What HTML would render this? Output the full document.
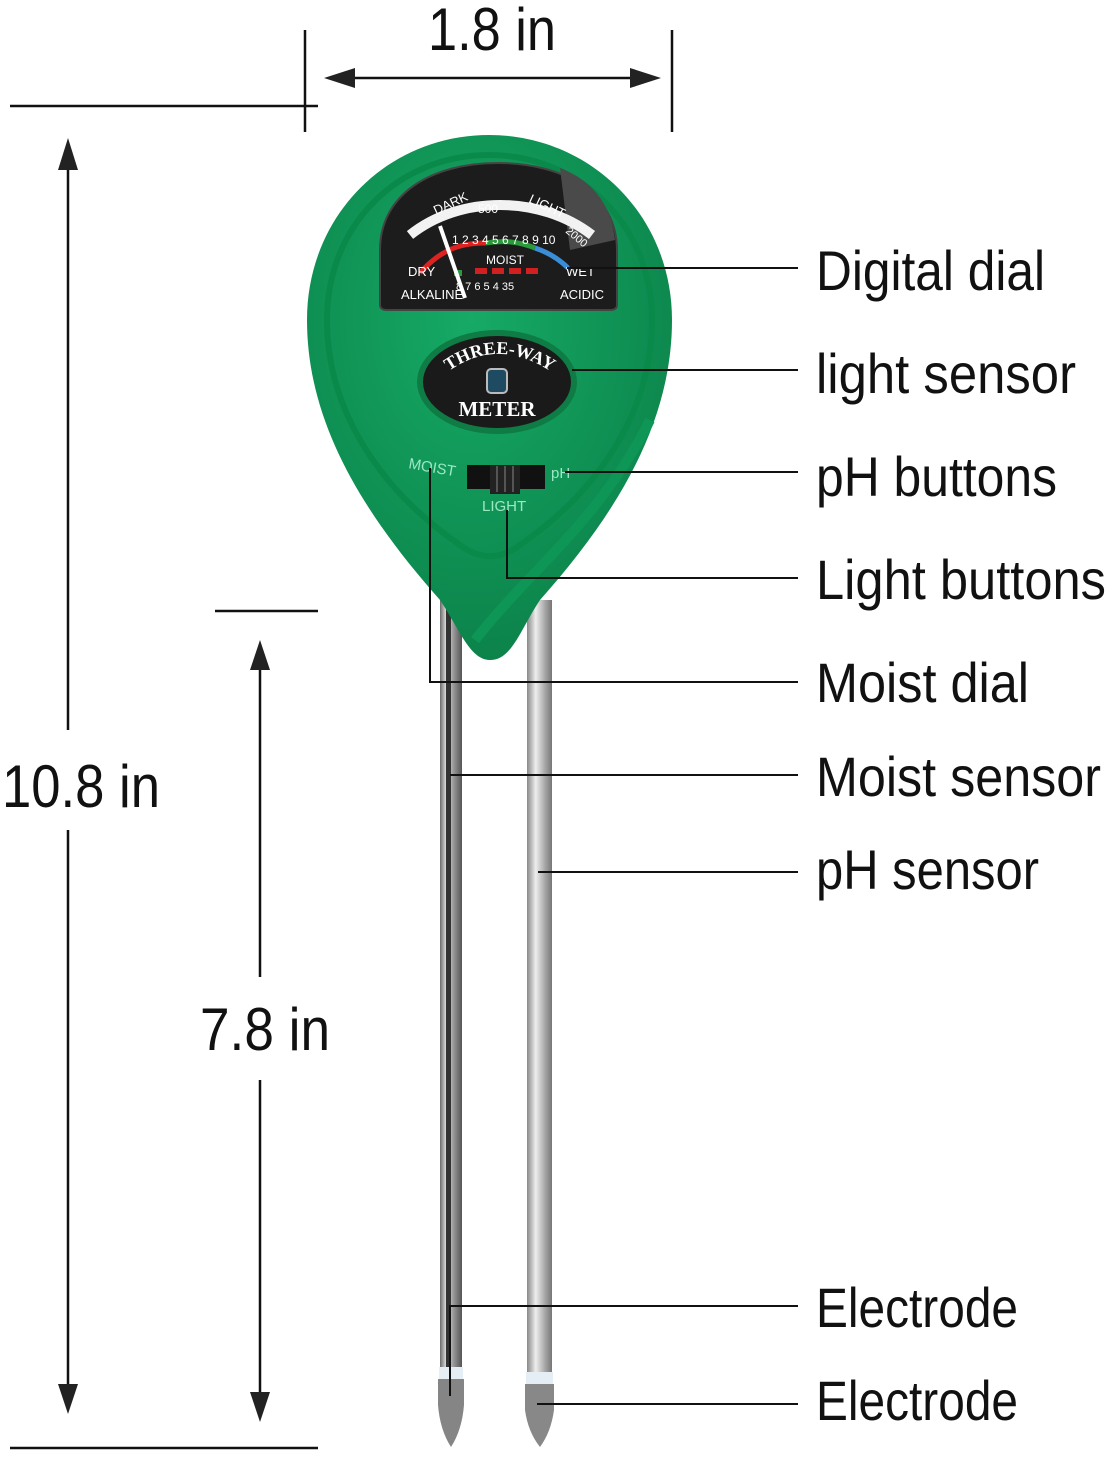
<!DOCTYPE html>
<html><head><meta charset="utf-8"><style>html,body{margin:0;padding:0;background:#fff}svg{display:block}</style></head>
<body>
<svg width="1112" height="1457" viewBox="0 0 1112 1457" xmlns="http://www.w3.org/2000/svg" font-family="Liberation Sans, sans-serif">
<defs>
<linearGradient id="rod" x1="0" x2="1"><stop offset="0" stop-color="#6b6b6b"/><stop offset=".3" stop-color="#e8e8e8"/><stop offset=".6" stop-color="#9a9a9a"/><stop offset="1" stop-color="#555"/></linearGradient>
<linearGradient id="rod2" x1="0" x2="1"><stop offset="0" stop-color="#888"/><stop offset=".35" stop-color="#eee"/><stop offset=".7" stop-color="#aaa"/><stop offset="1" stop-color="#777"/></linearGradient>
<radialGradient id="body" cx=".45" cy=".35" r=".7"><stop offset="0" stop-color="#16aa66"/><stop offset="1" stop-color="#0b8048"/></radialGradient>
<path id="arc" d="M440,378 Q497,330 560,378"/>
</defs>
<g stroke="#111" stroke-width="2.5" fill="none">
<line x1="10" y1="106" x2="318" y2="106"/>
<line x1="305" y1="30" x2="305" y2="132"/>
<line x1="672" y1="30" x2="672" y2="132"/>
<line x1="345" y1="78" x2="640" y2="78"/>
<line x1="68" y1="160" x2="68" y2="730"/>
<line x1="68" y1="830" x2="68" y2="1392"/>
<line x1="10" y1="1448" x2="318" y2="1448"/>
<line x1="215" y1="611" x2="318" y2="611"/>
<line x1="260" y1="660" x2="260" y2="977"/>
<line x1="260" y1="1080" x2="260" y2="1400"/>
</g>
<g fill="#222">
<polygon points="324,78 355,68 355,88"/><polygon points="661,78 630,68 630,88"/>
<polygon points="68,138 58,170 78,170"/><polygon points="68,1414 58,1384 78,1384"/>
<polygon points="260,640 250,670 270,670"/><polygon points="260,1422 250,1392 270,1392"/>
</g>
<g fill="#111" font-size="60">
<text x="428" y="50" textLength="128" lengthAdjust="spacingAndGlyphs">1.8 in</text>
<text x="2" y="807" textLength="158" lengthAdjust="spacingAndGlyphs">10.8 in</text>
<text x="200" y="1050" textLength="130" lengthAdjust="spacingAndGlyphs">7.8 in</text>
</g>
<rect x="440" y="600" width="22" height="782" fill="url(#rod)"/>
<rect x="446" y="600" width="5" height="770" fill="#333"/>
<rect x="527" y="600" width="25" height="787" fill="url(#rod2)"/>
<rect x="439" y="1367" width="24" height="12" fill="#e4eef4"/>
<rect x="526" y="1372" width="27" height="12" fill="#e4eef4"/>
<path d="M438,1379 L464,1379 L464,1405 Q462,1430 451,1447 Q440,1430 438,1405 Z" fill="#858585"/>
<path d="M525,1384 L554,1384 L554,1410 Q551,1432 540,1447 Q528,1432 525,1410 Z" fill="#888"/>
<path d="M489,135 C590,135 672,215 672,320 C672,420 620,510 540,600 C520,630 512,660 490,660 C470,660 460,630 440,600 C360,510 307,420 307,320 C307,215 388,135 489,135 Z" fill="url(#body)"/>
<path d="M489,155 C580,155 652,225 652,320 C652,410 600,490 520,545 C500,560 480,560 460,545 C380,490 327,410 327,320 C327,225 398,155 489,155 Z" fill="none" stroke="#0a8a4a" stroke-width="6"/>
<path d="M475,640 C530,570 600,520 650,420" fill="none" stroke="#0d9656" stroke-width="10"/>
<path d="M380,305 L380,250 C380,195 430,163 498,163 C566,163 617,195 617,250 L617,305 Q617,310 610,310 L387,310 Q380,310 380,305 Z" fill="#1c1c1c" stroke="#444" stroke-width="2"/>
<path d="M560,168 C590,180 610,200 615,240 L570,250 Z" fill="#4a4a4a"/>
<path d="M410,235 C460,195 540,195 592,235" fill="none" stroke="#f2f2f2" stroke-width="10"/>
<path d="M420,273 C440,250 460,243 485,243" fill="none" stroke="#d22" stroke-width="5"/>
<path d="M485,243 C505,240 520,242 535,248" fill="none" stroke="#2a9a3a" stroke-width="5"/>
<path d="M535,248 C550,253 560,260 568,268" fill="none" stroke="#3a8ed8" stroke-width="5"/>
<g fill="#d02020"><rect x="475" y="268" width="12" height="6"/><rect x="492" y="268" width="12" height="6"/><rect x="509" y="268" width="12" height="6"/><rect x="526" y="268" width="12" height="6"/></g>
<rect x="454" y="270" width="8" height="6" fill="#2a9a3a"/>
<line x1="440" y1="226" x2="465" y2="298" stroke="#fff" stroke-width="4"/>
<g fill="#fff" font-size="13">
<text x="436" y="215" transform="rotate(-25 436 215)">DARK</text>
<text x="478" y="213" font-size="12">500</text>
<text x="528" y="202" transform="rotate(25 528 202)">LIGHT</text>
<text x="565" y="232" font-size="11" transform="rotate(40 565 232)">2000</text>
<text x="452" y="244" font-size="12">1 2 3 4 5 6 7 8 9 10</text>
<text x="486" y="264" font-size="12">MOIST</text>
<text x="408" y="276">DRY</text><text x="566" y="276">WET</text>
<text x="401" y="299">ALKALINE</text><text x="560" y="299">ACIDIC</text>
<text x="456" y="290" font-size="11">8   7  6  5  4  35</text>
</g>
<ellipse cx="497" cy="382" rx="80" ry="52" fill="#0e7c44"/>
<ellipse cx="497" cy="382" rx="74" ry="46" fill="#1a1a1a"/>
<rect x="487" y="369" width="20" height="24" rx="4" fill="#1e4a62" stroke="#bbb" stroke-width="2"/>
<text fill="#fff" font-family="Liberation Serif, serif" font-weight="bold" font-size="18"><textPath href="#arc" startOffset="50%" text-anchor="middle">THREE-WAY</textPath></text>
<text x="497" y="416" text-anchor="middle" fill="#fff" font-family="Liberation Serif, serif" font-weight="bold" font-size="21">METER</text>
<rect x="467" y="465" width="78" height="24" fill="#111"/>
<rect x="490" y="465" width="30" height="29" fill="#222"/>
<g stroke="#555" stroke-width="2"><line x1="497" y1="466" x2="497" y2="492"/><line x1="505" y1="466" x2="505" y2="492"/><line x1="513" y1="466" x2="513" y2="492"/></g>
<g fill="#9be8c4" font-size="15">
<text x="408" y="472" transform="rotate(10 430 470)">MOIST</text>
<text x="551" y="478">pH</text>
<text x="482" y="511">LIGHT</text>
</g>
<g stroke="#111" stroke-width="2" fill="none">
<line x1="567" y1="268" x2="798" y2="268"/>
<line x1="572" y1="370" x2="798" y2="370"/>
<line x1="565" y1="472" x2="798" y2="472"/>
<polyline points="507,510 507,578 798,578"/>
<polyline points="430,468 430,682 798,682"/>
<line x1="450" y1="775" x2="798" y2="775"/>
<line x1="538" y1="872" x2="798" y2="872"/>
<polyline points="450,1396 450,1306 798,1306"/>
<line x1="537" y1="1404" x2="798" y2="1404"/>
</g>
<g fill="#111" font-size="56">
<text x="816" y="290" textLength="229" lengthAdjust="spacingAndGlyphs">Digital dial</text>
<text x="816" y="393" textLength="260" lengthAdjust="spacingAndGlyphs">light sensor</text>
<text x="816" y="496" textLength="241" lengthAdjust="spacingAndGlyphs">pH buttons</text>
<text x="816" y="599" textLength="290" lengthAdjust="spacingAndGlyphs">Light buttons</text>
<text x="816" y="702" textLength="213" lengthAdjust="spacingAndGlyphs">Moist dial</text>
<text x="816" y="796" textLength="285" lengthAdjust="spacingAndGlyphs">Moist sensor</text>
<text x="816" y="889" textLength="223" lengthAdjust="spacingAndGlyphs">pH sensor</text>
<text x="816" y="1327" textLength="202" lengthAdjust="spacingAndGlyphs">Electrode</text>
<text x="816" y="1420" textLength="202" lengthAdjust="spacingAndGlyphs">Electrode</text>
</g>
</svg>
</body></html>
